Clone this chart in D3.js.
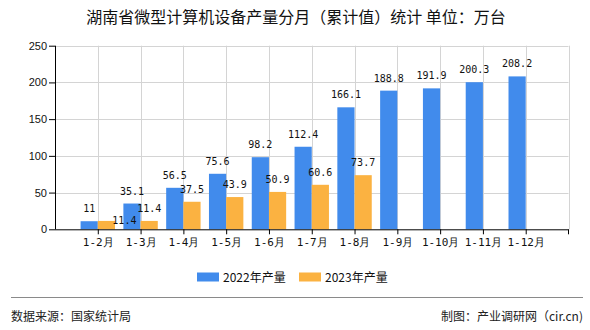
<!DOCTYPE html>
<html><head><meta charset="utf-8">
<script src="https://cdn.jsdelivr.net/npm/d3@7"></script>
<style>
html,body{margin:0;padding:0;background:#fff;}
svg{display:block;}
</style></head>
<body>
<svg id="c" width="590" height="330"></svg>
<script>
const title = "湖南省微型计算机设备产量分月（累计值）统计 单位：万台";
const categories = ["1-2月","1-3月","1-4月","1-5月","1-6月","1-7月","1-8月","1-9月","1-10月","1-11月","1-12月"];
const series2022 = [11, 35.1, 56.5, 75.6, 98.2, 112.4, 166.1, 188.8, 191.9, 200.3, 208.2];
const series2023 = [11.4, 11.4, 37.5, 43.9, 50.9, 60.6, 73.7];
const seriesNames = ["2022年产量", "2023年产量"];
const colors = ["#418bec", "#fbb241"];
const yTicks = [0, 50, 100, 150, 200, 250];
const sourceText = "数据来源：国家统计局";
const creditText = "制图：产业调研网（cir.cn)";

(function () {
const svg = d3.select("#c");
const pL = 55, pR = 568.5, pT = 45.7, pB = 229.3;
const slot = (pR - pL) / (categories.length + 1);

const x = d3.scalePoint().domain(categories).range([pL + slot, pR - slot]);
const y = d3.scaleLinear().domain([0, 250]).range([pB, pT]);
const barW = 17.2;

svg.append("text").attr("x", 296).attr("y", 23).attr("text-anchor", "middle")
  .style("font-family", "'Noto Sans CJK SC'").style("font-size", "16px").attr("fill", "#111").text(title);

svg.append("g").selectAll("line").data(yTicks.filter(d => d > 0)).join("line")
  .attr("x1", pL).attr("x2", pR).attr("y1", d => Math.round(y(d)) + 0.5).attr("y2", d => Math.round(y(d)) + 0.5)
  .attr("stroke", "#d4d4d4").attr("stroke-width", 1);
const vx = categories.map(c => x(c)).concat([pR]);
svg.append("g").selectAll("line").data(vx).join("line")
  .attr("x1", d => Math.round(d) + 0.5).attr("x2", d => Math.round(d) + 0.5).attr("y1", pT).attr("y2", pB)
  .attr("stroke", "#d4d4d4").attr("stroke-width", 1);

const data2022 = categories.map((c, i) => ({c, v: series2022[i]}));
const data2023 = series2023.map((v, i) => ({c: categories[i], v}));
svg.append("g").selectAll("rect").data(data2022).join("rect")
  .attr("x", d => x(d.c) - barW).attr("width", barW)
  .attr("y", d => y(d.v)).attr("height", d => pB - y(d.v)).attr("fill", colors[0]);
svg.append("g").selectAll("rect").data(data2023).join("rect")
  .attr("x", d => x(d.c)).attr("width", barW)
  .attr("y", d => y(d.v)).attr("height", d => pB - y(d.v)).attr("fill", colors[1]);

const yAxis = d3.axisLeft(y).tickValues(yTicks).tickSize(6).tickPadding(2);
const gy = svg.append("g").attr("transform", `translate(${pL},0)`).call(yAxis);
gy.select(".domain").attr("stroke", "#000").attr("d", `M0.5,${pT}V${pB}`);
gy.selectAll(".tick line").attr("stroke", "#000");
gy.selectAll("text").style("font-family", "'Liberation Sans', Arial, sans-serif").style("font-size", "11px").attr("fill", "#111");

const xAxis = d3.axisBottom(x).tickSize(5).tickPadding(4);
const gx = svg.append("g").attr("transform", `translate(0,${pB})`).call(xAxis);
gx.select(".domain").attr("stroke", "#000").attr("d", `M${pL},0.5H${pR}`);
gx.selectAll(".tick line").attr("stroke", "#000");
gx.selectAll("text").style("font-family", "'DejaVu Sans Mono', monospace").style("font-size", "11px").attr("fill", "#111");
gx.append("line").attr("x1", pR).attr("x2", pR).attr("y1", 0).attr("y2", 5).attr("stroke", "#000");

const lf = "'DejaVu Sans Mono', monospace";
const lab22 = data2022.map(d => ({text: String(d.v), cx: x(d.c) - barW / 2, by: y(d.v) - 9}));
const lab23 = data2023.map(d => ({text: String(d.v), cx: x(d.c) + barW / 2, by: y(d.v) - 9}));
const cw = 6.02;
lab23.forEach((l, i) => {
  const a = lab22[i];
  const aw = a.text.length * cw, bw = l.text.length * cw;
  const hOverlap = (l.cx - bw / 2) < (a.cx + aw / 2) && (a.cx - aw / 2) < (l.cx + bw / 2);
  const vOverlap = Math.abs(l.by - a.by) < 10;
  if (hOverlap && vOverlap) { l.cx += 18; l.by += 12; }
});
svg.append("g").selectAll("text").data(lab22.concat(lab23)).join("text")
  .attr("x", d => d.cx).attr("y", d => d.by).attr("text-anchor", "middle")
  .style("font-family", lf).style("font-size", "10px").attr("fill", "#111").text(d => d.text);

const lg = svg.append("g");
[{x: 197, n: 0}, {x: 299, n: 1}].forEach(o => {
  lg.append("rect").attr("x", o.x).attr("y", 272.5).attr("width", 22).attr("height", 9).attr("fill", colors[o.n]);
  lg.append("text").attr("x", o.x + 26).attr("y", 282).style("font-family", "'Noto Sans CJK SC'")
    .style("font-size", "12px").attr("fill", "#111").text(seriesNames[o.n]);
});

svg.append("line").attr("x1", 11).attr("x2", 583).attr("y1", 297.5).attr("y2", 297.5).attr("stroke", "#8a8a8a").attr("stroke-width", 1);
svg.append("text").attr("x", 11).attr("y", 321).style("font-family", "'Noto Sans CJK SC'").style("font-size", "12px").attr("fill", "#222").text(sourceText);
svg.append("text").attr("x", 583).attr("y", 321).attr("text-anchor", "end").style("font-family", "'Noto Sans CJK SC'").style("font-size", "12px").attr("fill", "#222").text(creditText);
})();
</script>
</body></html>
